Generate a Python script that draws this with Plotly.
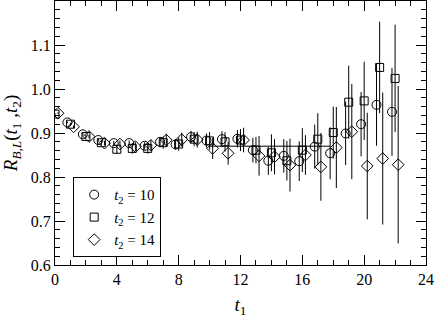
import plotly.graph_objects as go

# t2 = 10 (circles, shifted -0.2)
t1_c = [0.8, 1.8, 2.8, 3.8, 4.8, 5.8, 6.8, 7.8, 8.8, 9.8, 10.8, 11.8,
        12.8, 13.8, 14.8, 15.8, 16.8, 17.8, 18.8, 19.8, 20.8, 21.8]
r_c = [0.924, 0.897, 0.884, 0.877, 0.877, 0.871, 0.880, 0.874, 0.891, 0.883, 0.886, 0.887,
       0.861, 0.837, 0.848, 0.836, 0.869, 0.854, 0.899, 0.920, 0.964, 0.948]
e_c = [0.002, 0.003, 0.004, 0.005, 0.006, 0.008, 0.010, 0.012, 0.014, 0.016, 0.018, 0.020,
       0.028, 0.032, 0.038, 0.045, 0.050, 0.059, 0.072, 0.073, 0.093, 0.100]

# t2 = 12 (squares)
t1_s = list(range(0, 23))
r_s = [0.943, 0.920, 0.892, 0.878, 0.863, 0.865, 0.865, 0.878, 0.875, 0.886, 0.882, 0.880,
       0.884, 0.861, 0.855, 0.837, 0.861, 0.886, 0.901, 0.970, 0.973, 1.049, 1.024]
e_s = [0.002, 0.003, 0.004, 0.006, 0.010, 0.012, 0.012, 0.014, 0.015, 0.016, 0.020, 0.022,
       0.025, 0.030, 0.042, 0.045, 0.050, 0.059, 0.059, 0.083, 0.089, 0.104, 0.122]

# t2 = 14 (diamonds, shifted +0.2)
t1_d = [0.2, 1.2, 2.2, 3.2, 4.2, 5.2, 6.2, 7.2, 8.2, 9.2, 10.2, 11.2,
        12.2, 13.2, 14.2, 15.2, 16.2, 17.2, 18.2, 19.2, 20.2, 21.2, 22.2]
r_d = [0.945, 0.914, 0.892, 0.877, 0.875, 0.869, 0.872, 0.884, 0.885, 0.885, 0.865, 0.854,
       0.884, 0.848, 0.846, 0.827, 0.850, 0.823, 0.867, 0.903, 0.825, 0.842, 0.828]
e_d = [0.002, 0.003, 0.004, 0.005, 0.008, 0.010, 0.012, 0.014, 0.016, 0.018, 0.024, 0.026,
       0.028, 0.045, 0.040, 0.060, 0.045, 0.077, 0.092, 0.108, 0.121, 0.150, 0.179]

# plateau fit
fit_t = [10, 17.8]
fit_r = [0.870, 0.870]

serif = "Liberation Serif, Times New Roman, serif"

fig = go.Figure()

def add_series(x, y, err, symbol, size, name):
    fig.add_trace(go.Scatter(
        x=x, y=y, mode="markers", name=name,
        marker=dict(symbol=symbol, size=size, color="black", line=dict(color="black", width=1)),
        error_y=dict(type="data", array=err, visible=True, color="black", thickness=1, width=0),
    ))

add_series(t1_c, r_c, e_c, "circle-open", 9, "<i>t</i><sub>2</sub> = 10")
add_series(t1_s, r_s, e_s, "square-open", 8, "<i>t</i><sub>2</sub> = 12")
add_series(t1_d, r_d, e_d, "diamond-open", 9, "<i>t</i><sub>2</sub> = 14")

fig.add_trace(go.Scatter(x=fit_t, y=fit_r, mode="lines", line=dict(color="black", width=1),
                         showlegend=False, hoverinfo="skip"))

axis_common = dict(
    showline=True, linecolor="black", linewidth=1, mirror="allticks",
    ticks="inside", ticklen=10, tickcolor="black", tickwidth=1,
    showgrid=False, zeroline=False,
    tickfont=dict(family=serif, size=16, color="black"),
)

fig.update_xaxes(
    range=[0, 24], tickvals=[0, 4, 8, 12, 16, 20, 24],
    minor=dict(ticks="inside", ticklen=5, dtick=1, tickcolor="black", showgrid=False),
    title=dict(text="<i>t</i><sub>1</sub>", font=dict(family=serif, size=19, color="black"), standoff=10),
    **axis_common,
)
fig.update_yaxes(
    range=[0.6, 1.2], tickvals=[0.6, 0.7, 0.8, 0.9, 1.0, 1.1], tickformat=".1f",
    minor=dict(ticks="inside", ticklen=5, dtick=0.02, tick0=0.6, tickcolor="black", showgrid=False),
    title=dict(text="<i>R</i><sub><i>B,L</i></sub>(<i>t</i><sub>1</sub> ,<i>t</i><sub>2</sub>)",
               font=dict(family=serif, size=19, color="black"), standoff=8),
    **axis_common,
)

fig.update_layout(
    width=436, height=319,
    margin=dict(l=55, r=10, t=1, b=54),
    paper_bgcolor="white", plot_bgcolor="white",
    font=dict(family=serif, color="black"),
    legend=dict(
        x=0.049, y=0.332, xanchor="left", yanchor="top",
        bordercolor="black", borderwidth=1, bgcolor="white",
        font=dict(family=serif, size=15, color="black"),
        tracegroupgap=0,
    ),
)

# page has a default body margin; remove it so the figure sits at the window corner
fig.write_html("out.html", config={"displayModeBar": False},
               post_script="document.body.style.margin='0';")
